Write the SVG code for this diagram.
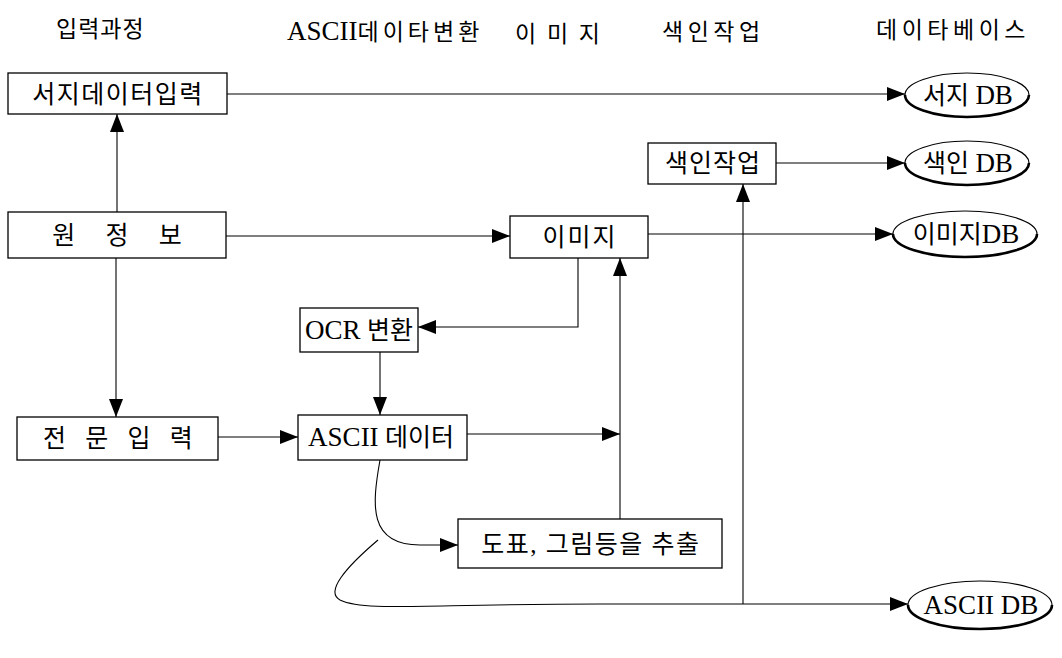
<svg xmlns="http://www.w3.org/2000/svg" width="1062" height="658" viewBox="0 0 1062 658">
<style>
text{font-family:"Liberation Serif","Noto Sans CJK KR",serif;fill:#000;}
.hd{font-size:23px;}
.lb{font-size:25px;text-anchor:middle;}
.lat{font-size:27px;}
.box{fill:#fff;stroke:#000;stroke-width:1.3;}
.ell{fill:#fff;stroke:#000;stroke-width:1.2;}
.sh{fill:none;stroke:#000;stroke-width:2.6;}
.cn{fill:none;stroke:#000;stroke-width:1.1;}
</style>
<defs>
<marker id="ah" viewBox="0 0 18 14" refX="18" refY="7" markerWidth="18" markerHeight="14" markerUnits="userSpaceOnUse" orient="auto"><path d="M0,0 L18,7 L0,14 z" fill="#000"/></marker>
</defs>
<g id="headers">
<text class="hd" x="56" y="37" letter-spacing="1">입력과정</text>
<text class="hd" x="287" y="40" letter-spacing="4"><tspan class="lat" letter-spacing="0">ASCII</tspan>데이타변환</text>
<text class="hd" x="515" y="42" word-spacing="5">이 미 지</text>
<text class="hd" x="662" y="40" letter-spacing="4.5">색인작업</text>
<text class="hd" x="876" y="38" letter-spacing="4.5">데이타베이스</text>
</g>
<g id="connectors">
<path class="cn" d="M117 212 V114" marker-end="url(#ah)"/>
<path class="cn" d="M227 94 H905" marker-end="url(#ah)"/>
<path class="cn" d="M116 258 V417" marker-end="url(#ah)"/>
<path class="cn" d="M226 236 H510" marker-end="url(#ah)"/>
<path class="cn" d="M648 234 H893" marker-end="url(#ah)"/>
<path class="cn" d="M578 258 V327 H418" marker-end="url(#ah)"/>
<path class="cn" d="M380 352 V415" marker-end="url(#ah)"/>
<path class="cn" d="M218 437 H298" marker-end="url(#ah)"/>
<path class="cn" d="M467 434 H620" marker-end="url(#ah)"/>
<path class="cn" d="M620 519 V258" marker-end="url(#ah)"/>
<path class="cn" d="M776 163 H905" marker-end="url(#ah)"/>
<path class="cn" d="M743 604 V184" marker-end="url(#ah)"/>
<path class="cn" d="M380 460 C372 505 368 545 420 545 H458" marker-end="url(#ah)"/>
<path class="cn" d="M378 540 C345 568 325 592 340 600 C365 612 420 604 600 604 H908" marker-end="url(#ah)"/>
</g>
<g id="n-seoji">
<rect class="box" x="8" y="73" width="219" height="41"/>
<text class="lb" x="118" y="103" letter-spacing="1.5">서지데이터입력</text>
</g>
<g id="n-won">
<rect class="box" x="8" y="212" width="218" height="46"/>
<text class="lb" x="117" y="244" word-spacing="24">원 정 보</text>
</g>
<g id="n-saegin">
<rect class="box" x="648" y="143" width="128" height="41"/>
<text class="lb" x="713" y="172" letter-spacing="1">색인작업</text>
</g>
<g id="n-image">
<rect class="box" x="510" y="216" width="138" height="42"/>
<text class="lb" x="580" y="246" letter-spacing="2">이미지</text>
</g>
<g id="n-ocr">
<rect class="box" x="300" y="308" width="118" height="44"/>
<text class="lb" x="359" y="339"><tspan class="lat">OCR</tspan> 변환</text>
</g>
<g id="n-jeonmun">
<rect class="box" x="17" y="417" width="201" height="43"/>
<text class="lb" x="118" y="447" word-spacing="13">전 문 입 력</text>
</g>
<g id="n-ascii">
<rect class="box" x="298" y="415" width="169" height="45"/>
<text class="lb" x="381" y="446"><tspan class="lat">ASCII</tspan> 데이터</text>
</g>
<g id="n-dopyo">
<rect class="box" x="458" y="519" width="264" height="49"/>
<text class="lb" x="591" y="553" letter-spacing="1.5">도표, 그림등을 추출</text>
</g>
<g id="db-seoji">
<ellipse class="ell" cx="967" cy="95" rx="62" ry="22"/>
<path class="sh" d="M905 95 A62 22 0 0 0 1029 95"/>
<text class="lb" x="968" y="104">서지 <tspan class="lat">DB</tspan></text>
</g>
<g id="db-saegin">
<ellipse class="ell" cx="967" cy="163" rx="62" ry="22"/>
<path class="sh" d="M905 163 A62 22 0 0 0 1029 163"/>
<text class="lb" x="968" y="172">색인 <tspan class="lat">DB</tspan></text>
</g>
<g id="db-image">
<ellipse class="ell" cx="965" cy="234" rx="72" ry="23"/>
<path class="sh" d="M893 234 A72 23 0 0 0 1037 234"/>
<text class="lb" x="966" y="243">이미지<tspan class="lat">DB</tspan></text>
</g>
<g id="db-ascii">
<ellipse class="ell" cx="980" cy="605" rx="72" ry="24"/>
<path class="sh" d="M908 605 A72 24 0 0 0 1052 605"/>
<text class="lb" x="981" y="614"><tspan class="lat">ASCII DB</tspan></text>
</g>
</svg>
